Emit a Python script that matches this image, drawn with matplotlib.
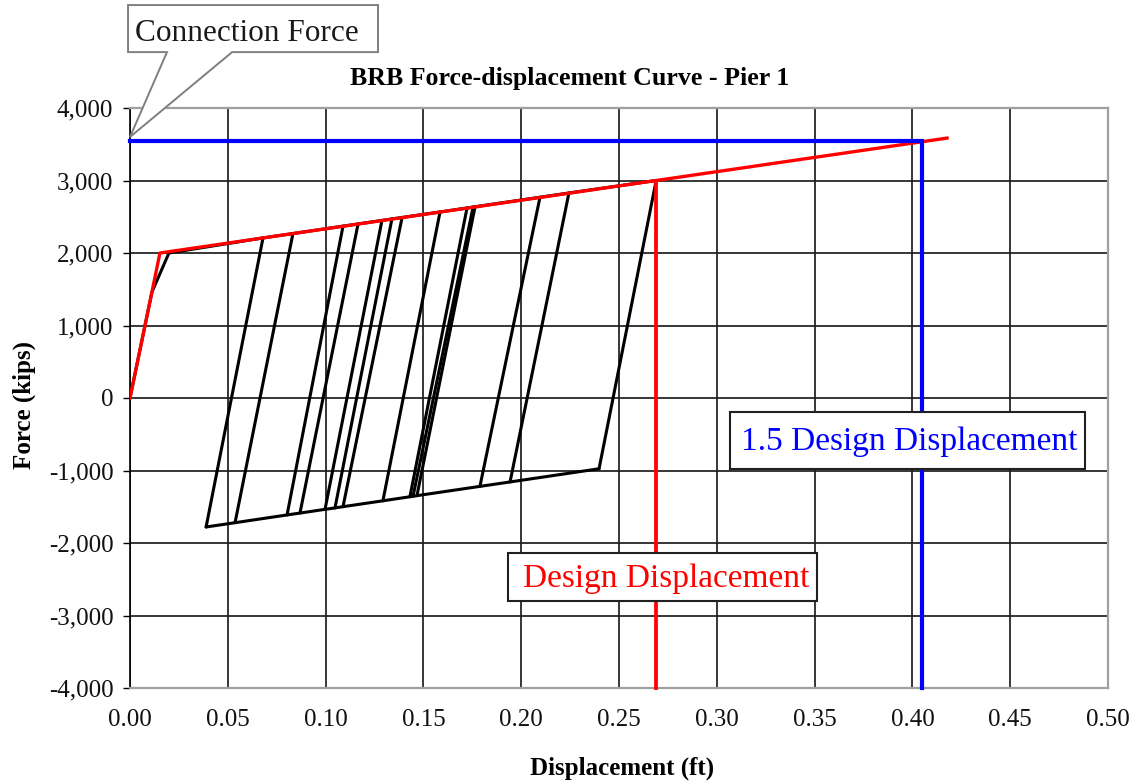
import matplotlib
matplotlib.use("Agg")
import matplotlib.pyplot as plt
from matplotlib.patches import Rectangle, Polygon
from matplotlib.ticker import FuncFormatter

# Initial loading branch of the brace (elastic, then yield)
initial_disp = [0.0, 0.0112, 0.0199]
initial_force = [0.0, 1460, 2000]

# Bilinear backbone used for design
backbone_disp = [0.0, 0.0112, 0.0153, 0.269, 0.4177]
backbone_force = [0.0, 1460, 2000, 3000, 3585]

# Elastic unload/reload branches of the cyclic response (lower end, upper end)
branch_bot_disp = [0.0389, 0.0537, 0.0803, 0.0869, 0.0997, 0.1048, 0.1089,
                   0.1293, 0.1431, 0.1447, 0.1467, 0.1789, 0.1943, 0.2398]
branch_bot_force = [-1779, -1720, -1613, -1587, -1536, -1516, -1499,
                    -1418, -1362, -1356, -1347, -1219, -1158, -976]
branch_top_disp = [0.0680, 0.0833, 0.1089, 0.1166, 0.1288, 0.1339, 0.1391,
                   0.1585, 0.1723, 0.1754, 0.1764, 0.2096, 0.2244, 0.269]
branch_top_force = [2208, 2268, 2370, 2401, 2449, 2470, 2490,
                    2566, 2621, 2634, 2638, 2769, 2828, 3000]

design_disp = 0.269
design_force = 3000
mce_disp = 0.405          # 1.5 x design displacement
connection_force = 3550

x_ticks = [0.00, 0.05, 0.10, 0.15, 0.20, 0.25, 0.30, 0.35, 0.40, 0.45, 0.50]
y_ticks = [-4000, -3000, -2000, -1000, 0, 1000, 2000, 3000, 4000]

SERIF = ["Liberation Serif", "DejaVu Serif"]
plt.rcParams["font.family"] = SERIF

W, H = 1134, 783
fig = plt.figure(figsize=(W / 100, H / 100), dpi=100)
fig.patch.set_facecolor("white")
ax = fig.add_axes([130 / W, 1 - 688 / H, (1108 - 130) / W, (688 - 108) / H])

ax.set_xlim(x_ticks[0], x_ticks[-1])
ax.set_ylim(y_ticks[0], y_ticks[-1])
ax.set_xticks(x_ticks)
ax.set_yticks(y_ticks)
ax.xaxis.set_major_formatter(FuncFormatter(lambda v, p: f"{v:.2f}"))
ax.yaxis.set_major_formatter(FuncFormatter(lambda v, p: f"{int(round(v)):,}"))
ax.tick_params(axis="x", length=0, pad=15, labelsize=18, labelcolor="#111111")
ax.tick_params(axis="y", length=5, width=1.0, direction="out", pad=7,
               labelsize=18, color="black", labelcolor="#111111")
ax.grid(True, color="#1e1e1e", linewidth=1.25)
ax.set_axisbelow(True)
for side in ("top", "right", "bottom"):
    ax.spines[side].set_color("#a0a0a0")
    ax.spines[side].set_linewidth(1.6)
ax.spines["left"].set_color("black")
ax.spines["left"].set_linewidth(1.2)

# Cyclic hysteresis (black)
blk = dict(color="black", linewidth=2.2, solid_joinstyle="round",
           solid_capstyle="round", zorder=3)
ax.plot(initial_disp + branch_top_disp, initial_force + branch_top_force, **blk)
ax.plot(branch_bot_disp, branch_bot_force, **blk)
for xb, yb, xt, yt in zip(branch_bot_disp, branch_bot_force,
                          branch_top_disp, branch_top_force):
    ax.plot([xb, xt], [yb, yt], **blk)

# Design backbone and design displacement (red)
ax.plot(backbone_disp, backbone_force, color="#ff0000", linewidth=2.4, zorder=4)
ax.plot([design_disp, design_disp], [design_force, y_ticks[0]],
        color="#ff0000", linewidth=2.7, zorder=4, clip_on=False)

# 1.5 design displacement and connection force (blue)
ax.plot([0, mce_disp, mce_disp], [connection_force, connection_force, y_ticks[0]],
        color="#0000ff", linewidth=3.0, zorder=5, solid_joinstyle="miter",
        clip_on=False)

# Label boxes
ax.add_patch(Rectangle((0.1933, -2799), 0.1579, 662, facecolor="white",
                       edgecolor="#202020", linewidth=1.5, zorder=6))
ax.text(0.2742, -2490, "Design Displacement", color="#ff0000", fontsize=24,
        ha="center", va="center", zorder=7)

ax.add_patch(Rectangle((0.3067, -979), 0.1815, 786, facecolor="white",
                       edgecolor="#202020", linewidth=1.5, zorder=6))
ax.text(0.3985, -600, "1.5 Design Displacement", color="#0000ff", fontsize=24,
        ha="center", va="center", zorder=7)

# Callout pointing at the connection force
callout = Polygon([(-0.001, 5420), (0.1268, 5420), (0.1268, 4771),
                   (0.0522, 4771), (0.0, connection_force + 50),
                   (0.0189, 4771), (-0.001, 4771)],
                  closed=True, facecolor="white", edgecolor="#7f7f7f",
                  linewidth=1.4, zorder=8, clip_on=False, joinstyle="miter")
ax.add_patch(callout)
ax.text(0.0600, 5030, "Connection Force", fontsize=22.5, color="#1a1a1a",
        ha="center", va="center", zorder=9, clip_on=False)

# Titles
fig.text(570 / W, 1 - 78 / H, "BRB Force-displacement Curve - Pier 1",
         fontsize=18.6, fontweight="bold", ha="center", va="center")
fig.text(622 / W, 1 - 768 / H, "Displacement (ft)", fontsize=18,
         fontweight="bold", ha="center", va="center")
fig.text(24 / W, 1 - 405 / H, "Force (kips)", fontsize=18, fontweight="bold",
         ha="center", va="center", rotation=90)

fig.savefig("out.png", dpi=100, facecolor="white")
